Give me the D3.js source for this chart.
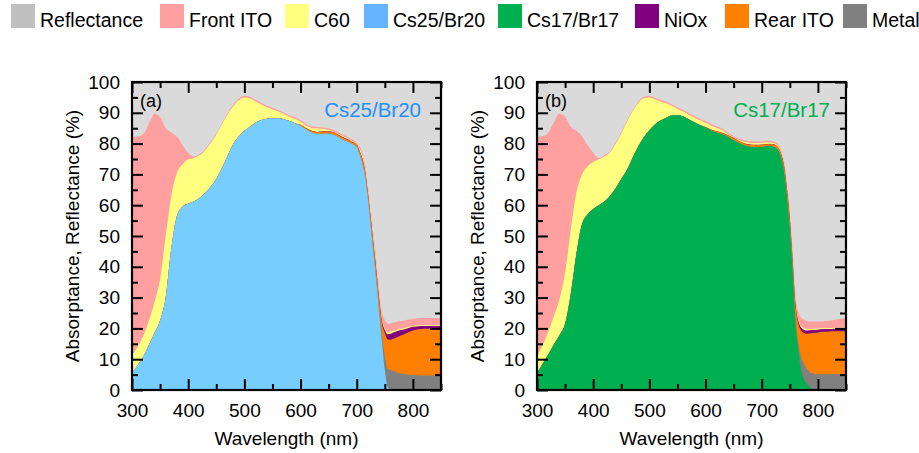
<!DOCTYPE html>
<html>
<head>
<meta charset="utf-8">
<script src="https://cdn.jsdelivr.net/npm/d3@7/dist/d3.min.js"></script>
<style>
  html, body { margin: 0; padding: 0; background: #fff; }
  svg { display: block; font-family: "Liberation Sans", Arial, sans-serif; }
</style>
</head>
<body>
<svg id="chart" width="919" height="453"></svg>
<script>
// Wavelength grid (nm)
const wavelength = [300,310,320,330,340,350,360,370,380,390,400,410,420,430,440,450,460,470,480,490,
  500,510,520,530,540,550,560,570,580,590,600,610,620,630,640,650,660,670,680,690,700,
  705,710,715,720,725,730,735,740,745,750,755,760,765,770,775,780,
  790,800,810,820,830,840,850];

// Layer names, bottom of the stack first
const layerKeys = ["absorber", "metal", "rearITO", "niox", "c60", "frontITO", "reflectance"];

// ---- Panel (a): Cs25/Br20 absorber ----
const a_absorber = [5.5,8,10.8,14.5,18.5,22.5,30,46,56.5,59.5,60.5,61.2,62.3,64,66,68.5,72,76,79.8,82.3,
  84.2,85.5,86.8,87.7,88.1,88.2,88.2,87.9,87.3,86.6,85.8,84.6,83.6,83.2,83.2,83.2,82.8,81.8,80.9,80,78.8,
  76.5,73.5,69.3,62,53,44,35,25,15.5,6.5,1,0,0,0,0,0,
  0,0,0,0,0,0,0];
const a_metal = [0,0,0,0,0,0,0,0,0,0,0,0,0,0,0,0,0,0,0,0,
  0,0,0,0,0,0,0,0,0,0,0,0,0,0,0.1,0.1,0.1,0.1,0.1,0.1,0.1,
  0.2,0.3,0.4,0.5,0.7,0.9,1.1,1.4,2.2,4.5,6,6.5,6.2,5.8,5.5,5.3,
  5,4.9,4.8,4.7,4.7,4.7,4.7];
const a_rearITO = [0,0,0,0,0,0,0,0,0,0,0,0,0,0,0,0,0,0,0,0,
  0,0,0,0,0,0,0,0,0,0,0.3,0.4,0.5,0.5,0.6,0.6,0.6,0.6,0.6,0.6,0.6,
  0.9,1.2,1.3,1.4,2,2.2,2.4,2.8,4,7.5,9.5,9.8,10.4,11.2,11.9,12.5,
  13.6,14.4,14.9,15.2,15.3,15.4,15.4];
const a_niox = [0,0,0,0,0,0,0,0,0,0,0,0,0,0,0,0,0,0,0,0,
  0,0,0,0,0,0,0,0,0,0,0,0.1,0.1,0.1,0.1,0.1,0.1,0.1,0.1,0.1,0.1,
  0.2,0.3,0.3,0.3,0.4,0.4,0.5,0.5,0.7,1,1.6,2,2.1,2,1.9,1.7,
  1.4,1.2,1,0.9,0.8,0.7,0.7];
const a_c60 = [6,6,6.7,8,10,13.5,20,17,14,13.8,14.3,14.1,13.9,13.8,14.1,14.4,14.2,13.4,12.3,11.8,
  10.8,9.2,6.9,5,3.7,2.9,2.2,1.7,1.4,1.5,1,0.7,0.9,1.1,0.7,0.5,0.2,0.3,0.3,0.2,0.2,
  0.6,0.9,0.9,0.9,1.2,1.2,1.1,0.8,0.6,0.6,0.6,0.6,0.5,0.5,0.5,0.4,
  0.4,0.3,0.3,0.3,0.3,0.3,0.3];
const a_frontITO = [70.7,68.3,65.5,64,61.2,52.6,35,20.6,11.8,6.2,2.2,0.5,0.4,0.4,0.4,0.4,0.4,0.4,0.5,0.5,
  0.5,0.5,0.5,0.5,0.5,0.5,0.5,0.5,0.5,0.5,0.5,0.5,0.5,0.5,0.5,0.5,0.5,0.5,0.5,0.5,0.5,
  0.6,0.8,0.8,0.9,1.2,1.3,1.4,1.5,2,2.6,2.8,2.7,2.6,2.6,2.5,2.5,
  2.4,2.3,2.3,2.3,2.3,2.3,2.3];
const a_reflectance = [17.8,17.7,17,13.5,10.3,11.4,15,16.4,17.7,20.5,23,24.2,23.4,21.8,19.5,16.7,13.4,10.2,7.4,5.4,
  4.5,4.8,5.8,6.8,7.7,8.4,9.1,9.9,10.8,11.4,12.4,13.7,14.4,14.6,14.8,15,15.7,16.6,17.5,18.5,19.7,
  21,23,27,34,41.5,50,58.5,68,75,77.3,78.5,78.4,78.2,77.9,77.7,77.6,
  77.2,76.9,76.7,76.6,76.6,76.6,76.6];

// ---- Panel (b): Cs17/Br17 absorber ----
const b_absorber = [5.4,8.5,11.5,14.8,17.8,21.5,31,44,53.8,57,58.8,60,61.2,63,65.5,68.5,71.4,75.3,79,82,
  84.3,86.2,87.5,88.4,89.1,89.2,88.8,87.9,86.9,86,85.2,84.2,83.6,83,82.2,81.1,80.1,79.3,78.9,78.8,78.9,
  79,79.1,79.1,79,78.6,77.6,75,70.5,62.5,52,38,22,13,6.5,3.5,2,
  0.3,0,0,0,0,0,0];
const b_metal = [0,0,0,0,0,0,0,0,0,0,0,0,0,0,0,0,0,0,0,0,
  0,0,0,0,0,0,0,0,0,0,0,0,0,0,0,0.1,0.1,0.1,0.1,0.1,0.1,
  0.1,0.1,0.1,0.1,0.1,0.1,0.3,0.4,0.5,0.8,1.1,1.5,2.6,4.3,5.1,5,
  5.1,5.1,5.1,5.1,5.1,5.1,5.1];
const b_rearITO = [0,0,0,0,0,0,0,0,0,0,0,0,0,0,0,0,0,0,0,0,
  0,0,0,0,0,0,0,0,0,0,0.2,0.3,0.3,0.4,0.4,0.5,0.5,0.5,0.6,0.6,0.6,
  0.6,0.6,0.6,0.7,0.7,0.8,1,1.5,2,2.7,3,4,6,8.5,10,11.3,
  13.1,13.6,13.8,13.9,14,14,14];
const b_niox = [0,0,0,0,0,0,0,0,0,0,0,0,0,0,0,0,0,0,0,0,
  0,0,0,0,0,0,0,0,0,0,0,0.1,0.1,0.1,0.1,0.1,0.1,0.1,0.1,0.1,0.1,
  0.1,0.1,0.1,0.1,0.1,0.1,0.2,0.3,0.4,0.5,0.6,0.8,0.9,1,1,1,
  1,0.9,0.9,0.8,0.8,0.8,0.8];
const b_c60 = [5.6,6,7.5,9.2,11.7,16.5,21,20,16.2,15.6,15.2,14.9,14.6,14.2,14.4,14.7,15.6,15.1,14.1,12.7,
  10.7,8.2,6.2,4.7,3.2,2.1,1.6,1.5,1.6,1.6,1.4,1.2,1.1,0.8,0.3,0.1,0.3,0.6,0.6,0.6,0.6,
  0.5,0.5,0.5,0.4,0.4,0.4,0.4,0.5,0.6,0.7,0.8,0.8,0.7,0.6,0.5,0.4,
  0.4,0.3,0.3,0.3,0.3,0.3,0.3];
const b_frontITO = [71.3,67.9,64.5,63,60.2,50.8,33.5,20.2,12.5,6.9,3,0.4,0.4,0.4,0.4,0.4,0.4,0.4,0.5,0.5,
  0.5,0.5,0.5,0.5,0.5,0.5,0.5,0.5,0.5,0.5,0.5,0.5,0.5,0.5,0.5,0.5,0.5,0.5,0.5,0.5,0.5,
  0.5,0.5,0.5,0.5,0.5,0.5,0.6,0.8,1,1.3,1.5,1.9,2.3,2.6,2.7,2.7,
  2.3,2.3,2.2,2.4,2.6,2.9,3.1];
const b_reflectance = [17.7,17.6,16.5,13,10.3,11.2,14.5,15.8,17.5,20.5,23,24.7,23.8,22.4,19.7,16.4,12.6,9.2,6.4,4.8,
  4.5,5.1,5.8,6.4,7.2,8.2,9.1,10.1,11,11.9,12.7,13.7,14.4,15.2,16.5,17.6,18.4,18.9,19.2,19.3,19.2,
  19.2,19.1,19.1,19.2,19.6,20.5,22.5,26,33,42,55,69,74.5,76.5,77.2,77.6,
  77.8,77.8,77.7,77.5,77.2,76.9,76.7];

// Axis ticks
const xMajorTicks = [300,400,500,600,700,800];
const xMinorTicks = [350,450,550,650,750,850];
const yMajorTicks = [0,10,20,30,40,50,60,70,80,90,100];
const yMinorTicks = [5,15,25,35,45,55,65,75,85,95];

// Legend entries
const legendLabels = ["Reflectance","Front ITO","C60","Cs25/Br20","Cs17/Br17","NiOx","Rear ITO","Metal"];
const legendColors = ["#c0c0c0","#ff9f9f","#ffff80","#66b3ff","#00b050","#800080","#ff8000","#808080"];

// Fill colours of the stacked layers
const layerColors = {
  reflectance: "#dadada",
  frontITO: "#ff9f9f",
  c60: "#ffff80",
  niox: "#800080",
  rearITO: "#ff8000",
  metal: "#808080"
};

const panels = [
  { tag: "(a)", name: "Cs25/Br20", absorberColor: "#76cdfe", nameColor: "#1e90ff",
    left: 132, nameRight: 421,
    series: { absorber: a_absorber, metal: a_metal, rearITO: a_rearITO, niox: a_niox,
              c60: a_c60, frontITO: a_frontITO, reflectance: a_reflectance } },
  { tag: "(b)", name: "Cs17/Br17", absorberColor: "#00b050", nameColor: "#00b050",
    left: 537, nameRight: 830,
    series: { absorber: b_absorber, metal: b_metal, rearITO: b_rearITO, niox: b_niox,
              c60: b_c60, frontITO: b_frontITO, reflectance: b_reflectance } }
];

const svg = d3.select("#chart");
const plotW = 309, plotTop = 82, plotBottom = 390;
const axisFont = 19;

panels.forEach((p, pi) => {
  const x = d3.scaleLinear().domain([300, 850]).range([p.left, p.left + plotW]);
  const y = d3.scaleLinear().domain([0, 100]).range([plotBottom, plotTop]);

  const rows = wavelength.map((w, i) => {
    const r = { wl: w };
    layerKeys.forEach(k => r[k] = p.series[k][i]);
    return r;
  });
  const stacked = d3.stack().keys(layerKeys)(rows);

  const clipId = "clip" + pi;
  svg.append("clipPath").attr("id", clipId)
    .append("rect").attr("x", p.left).attr("y", plotTop).attr("width", plotW).attr("height", plotBottom - plotTop);

  const g = svg.append("g").attr("clip-path", `url(#${clipId})`);

  // Paint each layer from the baseline up to its cumulative top, topmost layer first,
  // so neighbouring layers share one boundary without seams.
  const area = d3.area()
    .x((d, i) => x(wavelength[i]))
    .y0(y(0))
    .y1(d => y(d[1]))
    .curve(d3.curveMonotoneX);

  stacked.slice().reverse().forEach(layer => {
    const color = layer.key === "absorber" ? p.absorberColor : layerColors[layer.key];
    g.append("path").datum(layer).attr("d", area).attr("fill", color);
  });

  // Axes with inward ticks on all four sides
  const styleAxis = sel => {
    sel.select(".domain").remove();
    sel.selectAll(".tick line").attr("stroke", "#000").attr("stroke-width", 2);
    sel.selectAll("text").attr("font-size", axisFont).attr("font-family", "'Liberation Sans', Arial, sans-serif").attr("fill", "#000");
  };
  const major = 11, minor = 6;

  svg.append("g").attr("transform", `translate(0,${plotBottom})`)
    .call(d3.axisBottom(x).tickValues(xMajorTicks).tickSize(-major).tickPadding(14).tickFormat(d3.format("d")))
    .call(styleAxis);
  svg.append("g").attr("transform", `translate(0,${plotBottom})`)
    .call(d3.axisBottom(x).tickValues(xMinorTicks).tickSize(-minor).tickFormat(""))
    .call(styleAxis);
  svg.append("g").attr("transform", `translate(0,${plotTop})`)
    .call(d3.axisTop(x).tickValues(xMajorTicks).tickSize(-major).tickFormat(""))
    .call(styleAxis);
  svg.append("g").attr("transform", `translate(0,${plotTop})`)
    .call(d3.axisTop(x).tickValues(xMinorTicks).tickSize(-minor).tickFormat(""))
    .call(styleAxis);

  svg.append("g").attr("transform", `translate(${p.left},0)`)
    .call(d3.axisLeft(y).tickValues(yMajorTicks).tickSize(-major).tickPadding(12).tickFormat(d3.format("d")))
    .call(styleAxis);
  svg.append("g").attr("transform", `translate(${p.left},0)`)
    .call(d3.axisLeft(y).tickValues(yMinorTicks).tickSize(-minor).tickFormat(""))
    .call(styleAxis);
  svg.append("g").attr("transform", `translate(${p.left + plotW},0)`)
    .call(d3.axisRight(y).tickValues(yMajorTicks).tickSize(-major).tickFormat(""))
    .call(styleAxis);
  svg.append("g").attr("transform", `translate(${p.left + plotW},0)`)
    .call(d3.axisRight(y).tickValues(yMinorTicks).tickSize(-minor).tickFormat(""))
    .call(styleAxis);

  // Frame
  svg.append("rect")
    .attr("x", p.left).attr("y", plotTop).attr("width", plotW).attr("height", plotBottom - plotTop)
    .attr("fill", "none").attr("stroke", "#000").attr("stroke-width", 2.2);

  // Axis titles
  svg.append("text")
    .attr("x", p.left + plotW / 2).attr("y", 445)
    .attr("text-anchor", "middle").attr("font-size", axisFont)
    .text("Wavelength (nm)");
  svg.append("text")
    .attr("transform", `translate(${p.left - 60},${(plotTop + plotBottom) / 2}) rotate(-90)`)
    .attr("text-anchor", "middle").attr("font-size", axisFont)
    .attr("dy", "0.35em")
    .text("Absorptance, Reflectance (%)");

  // Panel tag and absorber name
  svg.append("text")
    .attr("x", p.left + 8).attr("y", 107)
    .attr("font-size", 18).text(p.tag);
  svg.append("text")
    .attr("x", p.nameRight).attr("y", 117)
    .attr("text-anchor", "end").attr("font-size", 20.5)
    .attr("fill", p.nameColor).text(p.name);
});

// Legend across the top: swatch slots spread over the full width
const legendSlots = [11, 160, 285, 364, 498, 635, 725, 843];
const legend = svg.append("g").attr("font-size", 19.5);
legendLabels.forEach((label, i) => {
  legend.append("rect")
    .attr("x", legendSlots[i]).attr("y", 4).attr("width", 24).attr("height", 24)
    .attr("fill", legendColors[i]);
  legend.append("text")
    .attr("x", legendSlots[i] + 29).attr("y", 26.5).text(label);
});
</script>
</body>
</html>
